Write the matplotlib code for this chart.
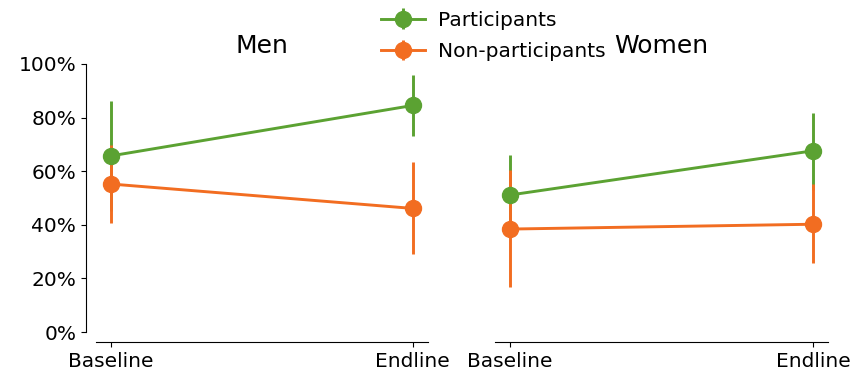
import numpy as np
import matplotlib
matplotlib.use('Agg')
import matplotlib.pyplot as plt
from matplotlib.ticker import PercentFormatter

# ------------------------------------------------------------------
# Data: share by survey round, with confidence intervals
# ------------------------------------------------------------------
rounds = ['Baseline', 'Endline']
panels = ['Men', 'Women']
groups = ['Participants', 'Non-participants']

men_part = [0.657, 0.845]
men_part_lo = [0.45, 0.731]
men_part_hi = [0.86, 0.959]
men_nonpart = [0.552, 0.461]
men_nonpart_lo = [0.406, 0.29]
men_nonpart_hi = [0.697, 0.635]

women_part = [0.511, 0.676]
women_part_lo = [0.36, 0.53]
women_part_hi = [0.66, 0.818]
women_nonpart = [0.384, 0.402]
women_nonpart_lo = [0.168, 0.256]
women_nonpart_hi = [0.604, 0.551]

colors = ['#5ba232', '#f26d21']

series = {
    'Men': [(men_part, men_part_lo, men_part_hi),
            (men_nonpart, men_nonpart_lo, men_nonpart_hi)],
    'Women': [(women_part, women_part_lo, women_part_hi),
              (women_nonpart, women_nonpart_lo, women_nonpart_hi)],
}

# ------------------------------------------------------------------
# Figure
# ------------------------------------------------------------------
plt.rcParams['font.family'] = 'DejaVu Sans'
fig = plt.figure(figsize=(8.53, 3.76), dpi=100)
ax_men = fig.add_axes([0.1125, 0.117, 0.389, 0.713])
ax_women = fig.add_axes([0.580, 0.117, 0.391, 0.713], sharey=ax_men)

x = np.arange(len(rounds))
handles = []
for ax, panel in zip([ax_men, ax_women], panels):
    for (vals, lo, hi), color, label in zip(series[panel], colors, groups):
        vals = np.array(vals)
        yerr = [vals - np.array(lo), np.array(hi) - vals]
        h = ax.errorbar(x, vals, yerr=yerr, color=color, ecolor=color,
                        marker='o', markersize=11.5, linewidth=2.1,
                        elinewidth=2.1, capsize=0, label=label)
        if panel == 'Men':
            handles.append(h)

    ax.set_title(panel, fontsize=18, pad=8)
    ax.set_xticks(x)
    ax.set_xticklabels(rounds)
    ax.tick_params(labelsize=14.5)
    ax.set_xlim(-0.05, 1.05)
    ax.set_ylim(0, 1)
    ax.spines['top'].set_visible(False)
    ax.spines['right'].set_visible(False)
    ax.spines['bottom'].set_position(('outward', 7.2))
    ax.spines['left'].set_position(('outward', 7.2))

ax_men.yaxis.set_major_formatter(PercentFormatter(1.0, decimals=0))
ax_men.set_yticks(np.linspace(0, 1, 6))

# right panel shares the y scale, no y axis drawn
ax_women.spines['left'].set_visible(False)
ax_women.tick_params(axis='y', left=False, labelleft=False)

fig.legend(handles=handles, labels=groups, loc='upper center',
           bbox_to_anchor=(0.578, 1.02), frameon=False, fontsize=14.5,
           handlelength=2.2, handletextpad=0.65, labelspacing=0.6)

plt.savefig('out.png', dpi=100)
plt.close()
